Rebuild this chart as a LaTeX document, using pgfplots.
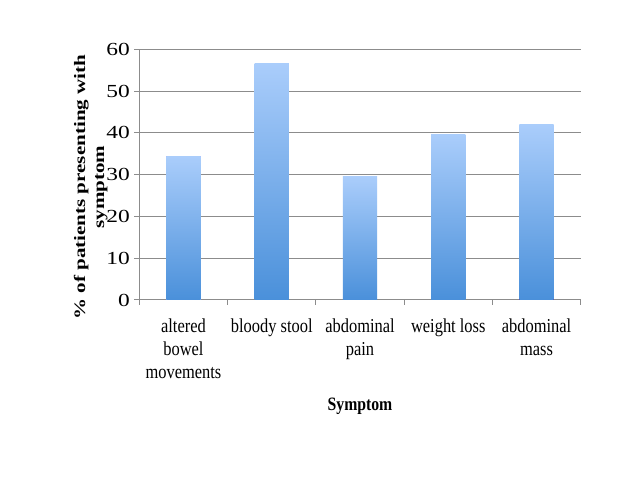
\documentclass[border=0pt]{standalone}
\usepackage{fontspec}
\setmainfont{Liberation Serif}
\usepackage{graphicx}
\usepackage{pgfplots}
\pgfplotsset{compat=1.18}
\definecolor{barTop}{HTML}{AACDFB}
\definecolor{barBot}{HTML}{4A90DA}
\definecolor{gridc}{HTML}{8C8C8C}
\newcommand{\vs}[1]{\scalebox{1}[1.2]{#1}}
\newcommand{\hs}[1]{\scalebox{1.27}[1]{#1}}
\newcommand{\hl}[1]{\scalebox{1.32}[1]{#1}}
\begin{document}
\begin{tikzpicture}
\fill[white] (0,0) rectangle (640bp,480bp);
\path[use as bounding box] (0,0) rectangle (640bp,480bp);
\begin{axis}[
  at={(139.3bp,180bp)}, anchor=south west,
  scale only axis, width=441.4bp, height=250.7bp,
  xmin=0, xmax=5, ymin=0, ymax=60,
  ybar, bar width=34.3bp,
  axis lines*=left,
  axis line style={gridc, line width=1bp},
  ymajorgrids, grid style={gridc, line width=1bp},
  ytick={0,10,20,30,40,50,60},
  yticklabels={\hs{0},\hs{10},\hs{20},\hs{30},\hs{40},\hs{50},\hs{60}},
  yticklabel style={font=\fontsize{18.5}{20}\selectfont, anchor=east, xshift=-1bp},
  xtick={0.5,1.5,2.5,3.5,4.5},
  minor xtick={0,1,2,3,4,5},
  xticklabels={{\vs{altered}\\\vs{bowel}\\\vs{movements}},{\vs{bloody stool}},{\vs{abdominal}\\\vs{pain}},{\vs{weight loss}},{\vs{abdominal}\\\vs{mass}}},
  xticklabel style={font=\fontsize{16.5}{23.3}\selectfont, align=center, anchor=north, yshift=-10bp},
  tick align=outside,
  major tick length=5bp, minor tick length=5bp,
  tick style={gridc, line width=1bp},
  major x tick style={draw=none},
  xlabel={\vs{Symptom}},
  xlabel style={font=\bfseries\fontsize{15.8}{18}\selectfont, at={(axis description cs:0.5,-0.439)}, anchor=base},
  ylabel={\hl{\% of patients presenting with}\\\hl{symptom}},
  ylabel style={font=\bfseries\fontsize{16}{19}\selectfont, align=center, at={(axis description cs:-0.11,0.45)}, anchor=center},
  every axis plot/.append style={draw=none, top color=barTop, bottom color=barBot, bar shift=0pt},
]
\addplot coordinates {(0.5,34.4)};
\addplot coordinates {(1.5,56.6)};
\addplot coordinates {(2.5,29.5)};
\addplot coordinates {(3.5,39.7)};
\addplot coordinates {(4.5,42.0)};
\end{axis}
\end{tikzpicture}
\end{document}
